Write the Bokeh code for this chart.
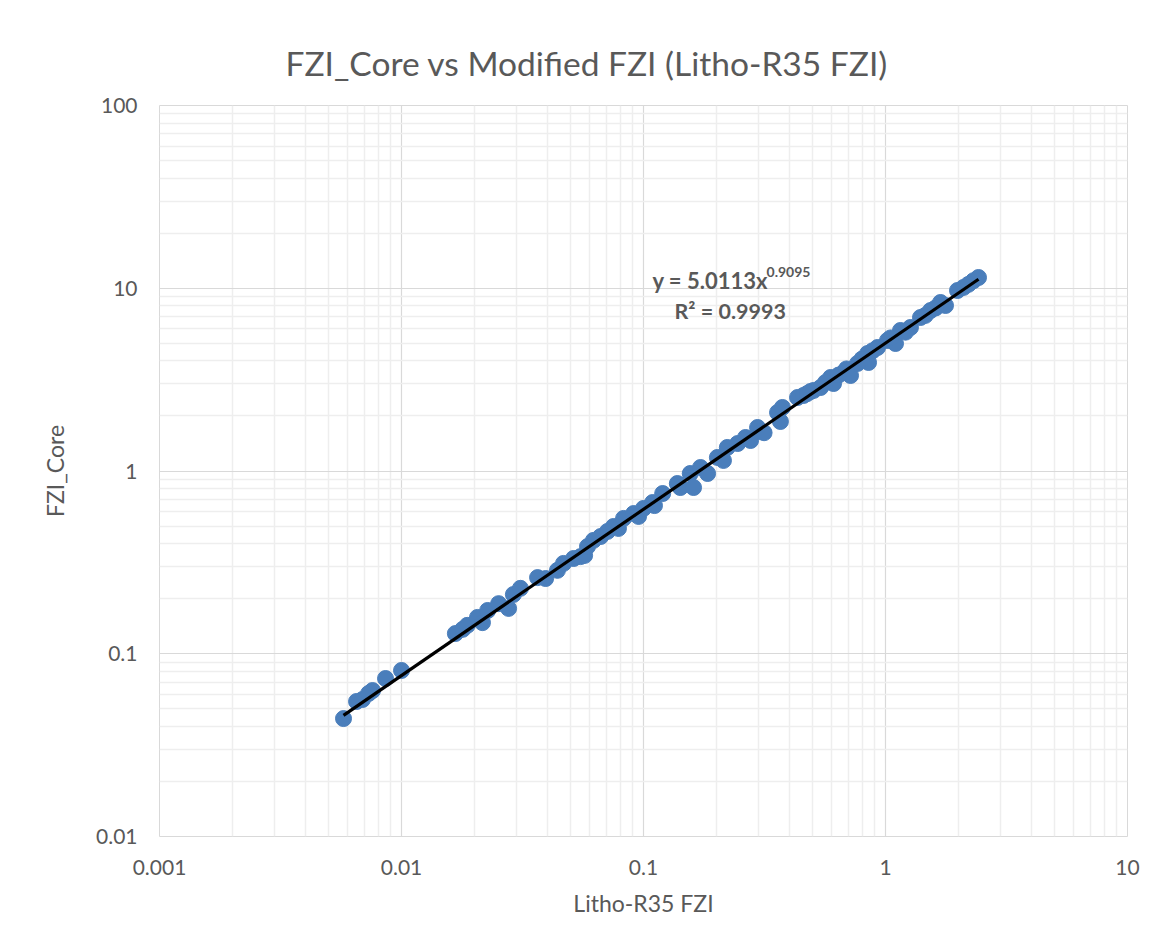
from bokeh.plotting import figure
from bokeh.models import FixedTicker, CustomJSTickFormatter, Label
from bokeh.embed import file_html
from bokeh.resources import INLINE

# ---- data ----
fzi_litho = [0.00576, 0.00652, 0.00690, 0.00731, 0.00759, 0.00859, 0.0100,
             0.0167, 0.0179, 0.0187, 0.0206, 0.0216, 0.0227, 0.0252, 0.0277, 0.0290, 0.0310,
             0.0365, 0.0394, 0.0441, 0.0467, 0.0514, 0.0549, 0.0571, 0.0587, 0.0621, 0.0665,
             0.0710, 0.0752, 0.0788, 0.0827, 0.0910, 0.0954, 0.100, 0.109, 0.111, 0.120,
             0.138, 0.142, 0.156, 0.161, 0.172, 0.184, 0.202, 0.214, 0.222, 0.245,
             0.264, 0.277, 0.296, 0.305, 0.358, 0.368, 0.375, 0.433, 0.458, 0.474,
             0.490, 0.505, 0.539, 0.593, 0.610, 0.671, 0.717, 0.766, 0.843, 0.851,
             0.927, 1.019, 1.100, 1.153, 1.268, 1.395, 1.535, 1.688, 1.770, 1.984,
             2.101, 2.310, 2.423,
             0.315, 0.565, 0.640, 0.690, 0.800, 0.885, 1.050, 1.210, 1.460, 1.610, 2.200]
fzi_core = [0.0442, 0.0548, 0.0562, 0.0606, 0.0629, 0.0732, 0.0810,
            0.129, 0.136, 0.143, 0.158, 0.148, 0.1725, 0.188, 0.177, 0.211, 0.228,
            0.261, 0.258, 0.286, 0.312, 0.332, 0.340, 0.345, 0.386, 0.417, 0.438,
            0.467, 0.497, 0.485, 0.550, 0.585, 0.564, 0.624, 0.672, 0.647, 0.753,
            0.854, 0.812, 0.969, 0.812, 1.045, 0.969, 1.186, 1.142, 1.345, 1.414,
            1.525, 1.469, 1.730, 1.645, 2.09, 1.866, 2.226, 2.525, 2.589, 2.65,
            2.723, 2.76, 2.863, 3.248, 3.011, 3.459, 3.332, 3.876, 4.395, 3.925,
            4.740, 5.178, 4.986, 5.873, 6.099, 6.918, 7.553, 8.356, 8.048, 9.72,
            10.1, 11.0, 11.45,
            1.62, 3.05, 3.35, 3.62, 4.10, 4.55, 5.35, 5.75, 7.10, 7.80, 10.5]

fit_coef = 5.0113
fit_exp = 0.9095
r_squared = 0.9993

x_ticks = [0.001, 0.01, 0.1, 1, 10]
y_ticks = [0.01, 0.1, 1, 10, 100]
x_minor = [m * t for t in x_ticks[:-1] for m in range(2, 10)]
y_minor = [m * t for t in y_ticks[:-1] for m in range(2, 10)]

FONT = "Lato"
GRAY = "#595959"

p = figure(width=1151, height=939, x_axis_type="log", y_axis_type="log",
           x_range=(0.001, 10), y_range=(0.01, 100),
           output_backend="svg", toolbar_location=None,
           min_border_left=159, min_border_right=24,
           min_border_top=105, min_border_bottom=103,
           title="FZI_Core vs Modified FZI (Litho-R35 FZI)")

p.title.text_font = FONT
p.title.text_font_size = "33.5px"
p.title.text_font_style = "normal"
p.title.text_color = GRAY
p.title.align = "left"
p.title.offset = 126
p.title.standoff = 46

p.outline_line_color = "#d9d9d9"
p.outline_line_width = 1

for ax, ticks, minor in ((p.xaxis, x_ticks, x_minor), (p.yaxis, y_ticks, y_minor)):
    ax.ticker = FixedTicker(ticks=ticks, minor_ticks=minor)
    ax.formatter = CustomJSTickFormatter(code="return String(tick);")
    ax.axis_line_color = None
    ax.major_tick_line_color = None
    ax.minor_tick_line_color = None
    ax.major_label_text_font = FONT
    ax.major_label_text_font_size = "21px"
    ax.major_label_text_color = GRAY
    ax.axis_label_text_font = FONT
    ax.axis_label_text_font_size = "23px"
    ax.axis_label_text_font_style = "normal"
    ax.axis_label_text_color = GRAY

p.xaxis.axis_label = "Litho-R35 FZI"
p.yaxis.axis_label = "FZI_Core"
p.xaxis.major_label_standoff = 17
p.yaxis.major_label_standoff = 16
p.xaxis.axis_label_standoff = 11
p.yaxis.axis_label_standoff = 24

for g in (p.xgrid, p.ygrid):
    g.grid_line_color = "#d9d9d9"
    g.grid_line_width = 1.2
    g.minor_grid_line_color = "#eeeeee"
    g.minor_grid_line_width = 1.5

p.scatter(fzi_litho, fzi_core, size=16, fill_color="#4a7ebb", line_color="#4a7ebb")

x_end = [min(fzi_litho), max(fzi_litho)]
y_end = [fit_coef * v ** fit_exp for v in x_end]
p.line(x_end, y_end, line_color="black", line_width=3.2)

eq_style = dict(text_font=FONT, text_font_style="bold", text_color=GRAY)
p.add_layout(Label(x=0.1089, y=11.03, text="y = %.4fx" % fit_coef,
                   text_font_size="22px", text_align="left", text_baseline="alphabetic", **eq_style))
p.add_layout(Label(x=0.3224, y=12.27, text="%.4f" % fit_exp,
                   text_font_size="14px", text_align="left", text_baseline="alphabetic", **eq_style))
p.add_layout(Label(x=0.1343, y=7.553, text="R² = %.4f" % r_squared,
                   text_font_size="21.5px", text_align="left", text_baseline="alphabetic", **eq_style))

open("out.html", "w").write(file_html(p, INLINE))
